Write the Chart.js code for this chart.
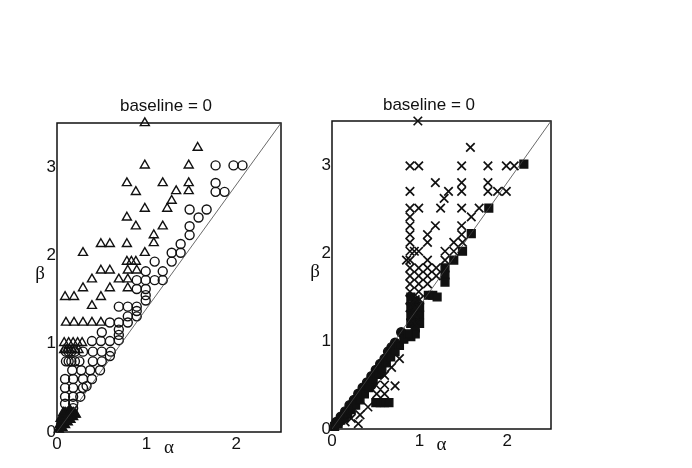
<!DOCTYPE html>
<html>
<head>
<meta charset="utf-8">
<style>
  html, body { margin: 0; padding: 0; background: #fff; }
  .panel { position: absolute; top: 85px; width: 300px; height: 383px; }
</style>
</head>
<body>
<div class="panel" style="left:0px"><canvas id="leftChart"></canvas></div>
<div class="panel" style="left:300px"><canvas id="rightChart"></canvas></div>

<script src="https://cdn.jsdelivr.net/npm/chart.js"></script>
<script>
// axes
const xTicks = [0, 1, 2];
const yTicks = [0, 1, 2, 3];
const xMax = 2.5;
const yMax = 3.5;
const diagLine = [[0, 0], [2.5, 3.5]];
const panelTitle = 'baseline = 0';

// left panel: triangles [alpha, beta]
const leftTriangles = [
  [0.98, 3.5], [1.57, 3.22], [0.98, 3.02], [1.47, 3.02],
  [0.78, 2.82], [1.18, 2.82], [1.47, 2.82],
  [0.88, 2.72], [1.33, 2.73], [1.47, 2.73], [1.28, 2.62],
  [0.98, 2.53], [1.23, 2.53], [0.78, 2.43], [0.88, 2.33], [1.18, 2.33],
  [1.08, 2.23], [0.49, 2.13], [0.59, 2.13], [0.78, 2.13], [1.08, 2.14],
  [0.29, 2.03], [0.98, 2.03], [0.78, 1.93], [0.83, 1.93], [0.88, 1.93],
  [0.49, 1.83], [0.59, 1.83], [0.79, 1.83], [0.89, 1.83],
  [0.39, 1.73], [0.69, 1.73], [0.79, 1.73],
  [0.29, 1.63], [0.59, 1.63], [0.79, 1.63],
  [0.09, 1.53], [0.19, 1.53], [0.49, 1.53], [0.39, 1.43],
  [0.1, 1.24], [0.19, 1.24], [0.29, 1.24], [0.39, 1.24], [0.49, 1.24],
  [0.08, 1.01], [0.13, 1.01], [0.18, 1.01], [0.23, 1.01], [0.28, 1.01],
  [0.08, 0.93], [0.11, 0.93], [0.14, 0.93], [0.17, 0.93], [0.2, 0.93], [0.24, 0.93]
];

// left panel: circles [alpha, beta]
const leftCircles = [
  [1.77, 3.02], [1.97, 3.02], [2.07, 3.02], [1.77, 2.82], [1.77, 2.72], [1.87, 2.72],
  [1.48, 2.52], [1.67, 2.52], [1.58, 2.43], [1.48, 2.33], [1.48, 2.23], [1.38, 2.13],
  [1.28, 2.03], [1.38, 2.03], [1.09, 1.93], [1.28, 1.93], [0.99, 1.82], [1.18, 1.82],
  [0.89, 1.72], [0.99, 1.72], [1.09, 1.72], [1.18, 1.72], [0.89, 1.62], [0.99, 1.62],
  [0.99, 1.55], [0.99, 1.49], [0.69, 1.42], [0.79, 1.42], [0.89, 1.42], [0.89, 1.37],
  [0.79, 1.31], [0.89, 1.31], [0.59, 1.24], [0.69, 1.24], [0.79, 1.24],
  [0.5, 1.13], [0.69, 1.16], [0.69, 1.1], [0.39, 1.03], [0.49, 1.03], [0.59, 1.03], [0.69, 1.04],
  [0.1, 0.91], [0.13, 0.91], [0.16, 0.91], [0.2, 0.91], [0.29, 0.91], [0.4, 0.91], [0.5, 0.91], [0.6, 0.91],
  [0.59, 0.86], [0.1, 0.8], [0.13, 0.8], [0.16, 0.8], [0.2, 0.8], [0.25, 0.8], [0.4, 0.8], [0.5, 0.8],
  [0.17, 0.7], [0.27, 0.7], [0.37, 0.7], [0.48, 0.7],
  [0.09, 0.6], [0.18, 0.6], [0.29, 0.6], [0.39, 0.6],
  [0.09, 0.5], [0.18, 0.5], [0.29, 0.5], [0.33, 0.52],
  [0.09, 0.4], [0.18, 0.4], [0.26, 0.4], [0.09, 0.32], [0.18, 0.32], [0.18, 0.27]
];

// left panel: dense cluster near the origin (reads as solid black)
const leftCore = [
  [0.02, 0.03], [0.04, 0.06], [0.06, 0.1], [0.08, 0.14], [0.1, 0.18], [0.12, 0.22],
  [0.05, 0.12], [0.07, 0.18], [0.09, 0.22], [0.15, 0.24], [0.18, 0.22], [0.2, 0.2],
  [0.03, 0.08], [0.06, 0.05], [0.09, 0.08], [0.12, 0.11], [0.15, 0.14], [0.18, 0.17],
  [0.21, 0.2], [0.1, 0.15], [0.14, 0.2], [0.12, 0.18], [0.04, 0.15], [0.07, 0.22]
];

// right panel: crosses [alpha, beta]
const rightCrosses = [
  [0.98, 3.5], [1.58, 3.2],
  [0.89, 2.99], [0.99, 2.99], [1.48, 2.99], [1.78, 2.99], [1.99, 2.99], [2.08, 2.99],
  [1.18, 2.8], [1.48, 2.8], [1.78, 2.8],
  [0.89, 2.7], [1.33, 2.7], [1.48, 2.7], [1.78, 2.7], [1.89, 2.7], [1.99, 2.7],
  [1.28, 2.62], [0.89, 2.51], [0.99, 2.51], [1.24, 2.51], [1.48, 2.51], [1.68, 2.51],
  [0.89, 2.41], [1.59, 2.41], [0.89, 2.31], [1.18, 2.31], [1.48, 2.31],
  [0.89, 2.21], [1.09, 2.21], [1.48, 2.21],
  [0.89, 2.12], [1.09, 2.12], [1.39, 2.12], [1.49, 2.12],
  [0.89, 2.02], [0.94, 2.02], [0.99, 2.02], [1.29, 2.02], [1.39, 2.02],
  [0.85, 1.92], [0.89, 1.92], [1.09, 1.92], [1.29, 1.92],
  [0.89, 1.83], [0.99, 1.83], [1.09, 1.83], [1.19, 1.83],
  [0.89, 1.74], [0.99, 1.74], [1.09, 1.74], [1.19, 1.74],
  [0.89, 1.65], [0.99, 1.65], [1.09, 1.65], [0.89, 1.56], [0.99, 1.56],
  [0.89, 1.47], [0.95, 1.47], [1.0, 1.47], [0.89, 1.38], [0.95, 1.38], [1.0, 1.38],
  [0.9, 1.29], [0.95, 1.29], [0.9, 1.2], [0.95, 1.2],
  [0.77, 0.8], [0.68, 0.7], [0.6, 0.61], [0.6, 0.5], [0.72, 0.49], [0.51, 0.4], [0.6, 0.4],
  [0.5, 0.5], [0.41, 0.25], [0.32, 0.16], [0.3, 0.06], [0.22, 0.12], [0.15, 0.08]
];

// right panel: filled squares [alpha, beta]
const rightSquares = [
  [2.19, 3.01], [1.79, 2.51], [1.59, 2.22], [1.49, 2.02], [1.39, 1.92],
  [1.29, 1.83], [1.29, 1.75], [1.29, 1.67],
  [1.1, 1.52], [1.15, 1.52], [1.2, 1.5],
  [0.9, 1.5], [0.95, 1.45], [1.0, 1.4], [0.9, 1.4], [0.95, 1.35], [1.0, 1.3],
  [0.9, 1.3], [0.95, 1.25], [1.0, 1.2], [0.9, 1.2], [0.95, 1.15], [0.9, 1.05], [0.95, 1.08],
  [0.03, 0.03], [0.07, 0.06], [0.1, 0.1], [0.14, 0.13], [0.18, 0.17], [0.22, 0.22],
  [0.27, 0.27], [0.32, 0.33], [0.37, 0.4], [0.42, 0.47], [0.47, 0.55], [0.52, 0.62],
  [0.57, 0.68], [0.62, 0.75], [0.67, 0.82], [0.72, 0.88], [0.77, 0.95], [0.82, 1.02],
  [0.87, 1.08], [0.5, 0.3], [0.55, 0.3], [0.6, 0.3], [0.65, 0.3]
];

// right panel: filled circles [alpha, beta]
const rightDots = [
  [0.05, 0.08], [0.1, 0.14], [0.15, 0.2], [0.2, 0.27], [0.25, 0.33], [0.3, 0.4],
  [0.35, 0.47], [0.4, 0.53], [0.45, 0.6], [0.5, 0.67], [0.55, 0.74], [0.6, 0.8],
  [0.64, 0.88], [0.68, 0.93], [0.72, 0.98], [0.79, 1.1], [0.55, 0.63], [0.45, 0.5]
];

const FONT = "'Liberation Sans', Arial, Helvetica, sans-serif";

const toPts = arr => arr.map(p => ({ x: p[0], y: p[1] }));

// frame box + title and axis letters
const panelText = {
  id: 'panelText',
  beforeDatasetsDraw(chart, args, o) {
    const { ctx, chartArea: a } = chart;
    ctx.save();
    ctx.strokeStyle = '#111';
    ctx.lineWidth = 1.5;
    ctx.strokeRect(a.left, a.top, a.right - a.left, a.bottom - a.top);
    ctx.restore();
  },
  afterDraw(chart, args, o) {
    const { ctx, chartArea: a } = chart;
    ctx.save();
    ctx.fillStyle = '#111';
    ctx.textAlign = 'center';
    ctx.textBaseline = 'middle';
    ctx.font = '17px ' + FONT;
    ctx.fillText(panelTitle, a.left + o.titleDx, a.top + o.titleDy);
    ctx.font = '19px "Liberation Serif", "DejaVu Serif", serif';
    ctx.fillText('α', (a.left + a.right) / 2, a.bottom + 16);
    ctx.fillText('β', a.left - 17, (a.top + a.bottom) / 2 - 3);
    ctx.restore();
  }
};

function markerSet(points, style, radius, filled, lw) {
  return {
    data: toPts(points),
    pointStyle: style,
    pointRadius: radius,
    pointBorderWidth: lw || 1.4,
    pointBorderColor: '#111',
    pointBackgroundColor: filled ? '#111' : 'rgba(0,0,0,0)',
    showLine: false,
    clip: false
  };
}

function makeChart(id, sets, opt) {
  new Chart(document.getElementById(id), {
    type: 'scatter',
    data: {
      datasets: [{
        data: toPts(diagLine),
        showLine: true,
        borderColor: '#444',
        borderWidth: 0.8,
        pointRadius: 0
      }].concat(sets)
    },
    options: {
      responsive: true,
      maintainAspectRatio: false,
      animation: false,
      events: [],
      layout: { padding: { left: 0, right: opt.padRight, top: opt.padTop, bottom: 0 } },
      plugins: {
        legend: { display: false },
        tooltip: { enabled: false },
        panelText: { titleDx: opt.titleDx, titleDy: opt.titleDy }
      },
      scales: {
        x: {
          type: 'linear', min: 0, max: xMax,
          grid: { display: false, drawTicks: false },
          border: { display: false },
          afterBuildTicks: s => { s.ticks = xTicks.map(v => ({ value: v })); },
          afterFit: s => { s.height = opt.xHeight; },
          ticks: { padding: 2, color: '#111', maxRotation: 0, autoSkip: false, font: { size: 17, family: FONT } }
        },
        y: {
          type: 'linear', min: 0, max: yMax,
          grid: { display: false, drawTicks: false },
          border: { display: false },
          afterBuildTicks: s => { s.ticks = yTicks.map(v => ({ value: v })); },
          afterFit: s => { s.width = opt.yWidth; },
          ticks: { padding: 1, color: '#111', autoSkip: false, font: { size: 17, family: FONT } }
        }
      }
    },
    plugins: [panelText]
  });
}

makeChart('leftChart', [
  markerSet(leftTriangles, 'triangle', 5.2, false),
  markerSet(leftCircles, 'circle', 4.5, false),
  markerSet(leftCore, 'triangle', 5.2, true)
], { padRight: 19, padTop: 38, xHeight: 36, yWidth: 57, titleDx: 109, titleDy: -17 });

makeChart('rightChart', [
  markerSet(rightCrosses, 'crossRot', 6, false, 1.7),
  markerSet(rightSquares, 'rect', 5.5, true),
  markerSet(rightDots, 'circle', 4.5, true)
], { padRight: 49, padTop: 36, xHeight: 39, yWidth: 32, titleDx: 97, titleDy: -16 });
</script>
</body>
</html>
